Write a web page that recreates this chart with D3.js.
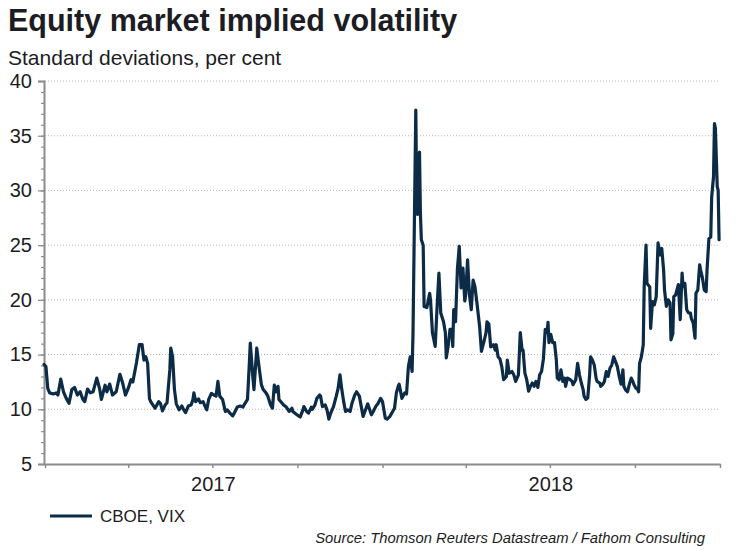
<!DOCTYPE html>
<html>
<head>
<meta charset="utf-8">
<script src="https://cdn.jsdelivr.net/npm/d3@7"></script>
<style>
  html, body { margin: 0; padding: 0; background: #ffffff; }
  svg { display: block; font-family: "Liberation Sans", Arial, sans-serif; }
</style>
</head>
<body>
<svg id="chart" width="745" height="550"></svg>
<script>
// ---------------- DATA ----------------
const seriesName = "CBOE, VIX";
const vixDates = [
"2016-12-31","2017-01-02","2017-01-04","2017-01-06","2017-01-10","2017-01-13","2017-01-15","2017-01-18","2017-01-21","2017-01-24",
"2017-01-27","2017-01-30","2017-02-02","2017-02-05","2017-02-08","2017-02-11","2017-02-13","2017-02-16","2017-02-19","2017-02-22",
"2017-02-26","2017-03-01","2017-03-03","2017-03-07","2017-03-09","2017-03-12","2017-03-15","2017-03-19","2017-03-23","2017-03-26",
"2017-03-29","2017-04-01","2017-04-04","2017-04-06","2017-04-10","2017-04-13","2017-04-16","2017-04-18","2017-04-20","2017-04-22",
"2017-04-24","2017-04-26","2017-04-30","2017-05-04","2017-05-06","2017-05-08","2017-05-11","2017-05-13","2017-05-16","2017-05-17",
"2017-05-19","2017-05-21","2017-05-23","2017-05-26","2017-05-29","2017-05-31","2017-06-02","2017-06-05","2017-06-08","2017-06-10",
"2017-06-11","2017-06-13","2017-06-16","2017-06-18","2017-06-21","2017-06-23","2017-06-25","2017-06-27","2017-06-30","2017-07-02",
"2017-07-05","2017-07-07","2017-07-09","2017-07-12","2017-07-15","2017-07-17","2017-07-20","2017-07-23","2017-07-25","2017-07-28",
"2017-07-31","2017-08-03","2017-08-05","2017-08-08","2017-08-10","2017-08-11","2017-08-14","2017-08-15","2017-08-18","2017-08-20",
"2017-08-23","2017-08-25","2017-08-28","2017-08-30","2017-09-02","2017-09-04","2017-09-06","2017-09-08","2017-09-10","2017-09-11",
"2017-09-14","2017-09-16","2017-09-19","2017-09-22","2017-09-25","2017-09-26","2017-09-29","2017-10-02","2017-10-04","2017-10-07",
"2017-10-08","2017-10-11","2017-10-13","2017-10-16","2017-10-17","2017-10-20","2017-10-22","2017-10-25","2017-10-26","2017-10-28",
"2017-10-31","2017-11-02","2017-11-04","2017-11-06","2017-11-09","2017-11-12","2017-11-14","2017-11-16","2017-11-18","2017-11-20",
"2017-11-22","2017-11-24","2017-11-27","2017-11-29","2017-12-02","2017-12-04","2017-12-07","2017-12-09","2017-12-11","2017-12-13",
"2017-12-16","2017-12-18","2017-12-20","2017-12-22","2017-12-25","2017-12-27","2017-12-30","2018-01-01","2018-01-04","2018-01-06",
"2018-01-09","2018-01-12","2018-01-14","2018-01-16","2018-01-18","2018-01-19","2018-01-22","2018-01-25","2018-01-27","2018-01-29",
"2018-01-31","2018-02-02","2018-02-03","2018-02-06","2018-02-07","2018-02-08","2018-02-10","2018-02-11","2018-02-12","2018-02-14",
"2018-02-15","2018-02-18","2018-02-21","2018-02-22","2018-02-24","2018-02-27","2018-03-01","2018-03-03","2018-03-05","2018-03-08",
"2018-03-10","2018-03-11","2018-03-13","2018-03-15","2018-03-17","2018-03-18","2018-03-19","2018-03-21","2018-03-23","2018-03-25",
"2018-03-27","2018-03-29","2018-03-31","2018-04-01","2018-04-03","2018-04-05","2018-04-07","2018-04-09","2018-04-11","2018-04-13",
"2018-04-16","2018-04-18","2018-04-21","2018-04-23","2018-04-24","2018-04-26","2018-04-28","2018-05-01","2018-05-03","2018-05-04",
"2018-05-06","2018-05-08","2018-05-10","2018-05-12","2018-05-15","2018-05-16","2018-05-18","2018-05-21","2018-05-23","2018-05-25",
"2018-05-28","2018-05-30","2018-06-01","2018-06-02","2018-06-04","2018-06-06","2018-06-08","2018-06-10","2018-06-12","2018-06-14",
"2018-06-16","2018-06-18","2018-06-20","2018-06-22","2018-06-24","2018-06-26","2018-06-28","2018-06-29","2018-06-30","2018-07-02",
"2018-07-04","2018-07-06","2018-07-08","2018-07-09","2018-07-11","2018-07-13","2018-07-15","2018-07-17","2018-07-18","2018-07-20",
"2018-07-23","2018-07-25","2018-07-26","2018-07-29","2018-07-31","2018-08-02","2018-08-04","2018-08-06","2018-08-07","2018-08-09",
"2018-08-11","2018-08-13","2018-08-14","2018-08-16","2018-08-18","2018-08-20","2018-08-21","2018-08-24","2018-08-25","2018-08-27",
"2018-08-29","2018-08-31","2018-09-02","2018-09-04","2018-09-06","2018-09-08","2018-09-10","2018-09-12","2018-09-14","2018-09-16",
"2018-09-18","2018-09-19","2018-09-21","2018-09-23","2018-09-25","2018-09-27","2018-09-29","2018-09-30","2018-10-02","2018-10-04",
"2018-10-05","2018-10-06","2018-10-08","2018-10-10","2018-10-11","2018-10-13","2018-10-14","2018-10-17","2018-10-18","2018-10-20",
"2018-10-22","2018-10-24","2018-10-26","2018-10-28","2018-10-30","2018-11-01","2018-11-02","2018-11-04","2018-11-06","2018-11-08",
"2018-11-09","2018-11-11","2018-11-12","2018-11-14","2018-11-17","2018-11-19","2018-11-21","2018-11-22","2018-11-24","2018-11-26",
"2018-11-28","2018-11-30","2018-12-01","2018-12-03","2018-12-05","2018-12-06","2018-12-08","2018-12-10","2018-12-11","2018-12-13",
"2018-12-15","2018-12-17","2018-12-18","2018-12-20","2018-12-22","2018-12-23","2018-12-25","2018-12-26","2018-12-27","2018-12-29",
"2018-12-30","2018-12-31"
];
const vixValues = [
14.1,13.9,11.9,11.5,11.4,11.5,11.3,12.75,11.6,11.0,
10.55,11.8,12.0,11.3,11.6,10.9,10.7,11.85,11.5,11.6,
12.85,11.9,10.9,12.2,11.6,12.3,11.3,11.6,13.2,12.4,
11.3,11.9,12.7,12.5,14.3,15.9,15.9,14.5,14.8,14.2,
10.95,10.6,10.1,10.7,10.5,9.85,10.4,10.6,13.6,15.6,
14.8,11.8,10.5,9.95,10.3,9.95,9.7,10.3,10.4,10.9,
11.5,10.7,10.95,10.6,10.7,10.3,9.95,10.9,11.45,11.35,
11.2,12.55,11.2,10.9,9.8,9.95,9.65,9.4,9.7,10.2,
10.3,10.2,10.5,10.9,14.2,16.05,12.7,11.8,15.6,14.2,
12.25,11.8,11.5,11.2,10.4,10.1,12.2,11.6,12.1,10.9,
10.6,10.4,10.2,9.8,10.1,9.8,9.6,9.4,9.3,9.95,
10.25,9.8,9.65,10.2,10.0,10.4,11.0,11.3,11.2,10.25,
10.4,9.95,9.1,9.65,10.25,11.2,11.9,13.15,11.8,10.7,
9.8,9.95,9.8,10.55,11.3,11.6,11.2,10.25,9.35,9.8,
10.5,10.0,9.5,9.8,10.3,10.5,11.0,10.7,9.2,9.1,
9.35,9.8,10.1,11.5,12.1,12.3,11.0,11.5,11.4,13.9,
14.8,13.45,17.0,37.35,29.1,27.8,33.5,27.9,25.5,25.0,
19.4,19.3,20.6,19.9,17.0,15.75,19.3,22.45,18.8,18.0,
17.0,14.7,15.75,17.3,17.3,15.75,19.1,18.0,22.8,24.9,
21.1,22.9,19.9,20.5,23.65,20.5,19.1,21.8,21.2,19.8,
17.6,15.3,16.3,17.0,18.0,17.8,15.7,15.9,15.4,15.9,
14.8,14.6,13.9,12.7,13.0,14.5,13.3,13.45,13.15,12.55,
13.15,17.0,15.4,15.4,13.3,12.7,11.65,12.1,12.4,12.1,
12.55,12.0,13.15,13.45,14.6,17.3,17.0,17.95,16.1,16.85,
16.1,16.1,14.5,12.85,12.7,13.6,12.55,12.85,12.1,12.85,
12.7,12.55,12.25,12.7,14.2,13.15,12.4,11.8,11.2,10.9,
11.05,13.15,14.8,14.5,14.05,12.85,12.55,12.4,12.1,12.25,
12.55,13.45,13.0,13.75,14.05,14.8,14.35,13.9,13.0,12.3,
13.6,12.1,11.75,11.6,12.3,12.85,12.5,12.25,11.95,11.8,
11.6,14.2,14.8,15.9,21.2,25.0,21.5,21.2,17.4,19.85,
19.55,20.3,25.2,24.1,24.7,22.75,20.9,19.4,20.0,19.7,
16.35,16.9,20.3,20.45,21.4,18.2,22.45,21.2,21.5,19.1,
18.8,18.8,18.3,17.9,16.5,20.6,20.9,23.2,22.75,22.0,
20.9,20.75,22.75,25.6,25.75,29.4,31.25,36.1,35.7,30.35,
30.0,25.5
];
const yTickValues = [5, 10, 15, 20, 25, 30, 35, 40];
const yearLabels = ["2017", "2018"];
const yearLabelDates = ["2017-07-02", "2018-07-02"];
const titleText = "Equity market implied volatility";
const subtitleText = "Standard deviations, per cent";
const sourceText = "Source: Thomson Reuters Datastream / Fathom Consulting";

// ---------------- CHART ----------------
const parse = d3.timeParse("%Y-%m-%d");
const data = vixDates.map((d, i) => ({ date: parse(d), value: vixValues[i] }));

const svg = d3.select("#chart");
const mLeft = 45, mRight = 720, mTop = 81, mBottom = 464;

const x = d3.scaleTime()
  .domain([new Date(2017, 0, 1), new Date(2019, 0, 1)])
  .range([mLeft, mRight]);
const y = d3.scaleLinear().domain([5, 40]).range([mBottom, mTop]);

const textColor = "#1c1c24";
const axisColor = "#8c8c8c";
const lineColor = "#0c2b47";

// Title & subtitle
svg.append("text").attr("x", 8).attr("y", 31)
  .attr("font-size", 30.5).attr("font-weight", "bold").attr("fill", textColor)
  .text(titleText);
svg.append("text").attr("x", 8).attr("y", 65)
  .attr("font-size", 21).attr("fill", textColor)
  .text(subtitleText);

// Gridlines
svg.append("g").selectAll("line")
  .data(yTickValues.filter(v => v > 5))
  .join("line")
  .attr("x1", mLeft).attr("x2", mRight)
  .attr("y1", d => y(d)).attr("y2", d => y(d))
  .attr("stroke", "#b8b8b8").attr("stroke-width", 1)
  .attr("stroke-dasharray", "1,2");

// Y axis minor ticks
const yMinor = d3.axisLeft(y).tickValues(d3.range(5, 41, 1)).tickSize(3).tickFormat("");
const gyMinor = svg.append("g").attr("transform", `translate(${mLeft - 1},0)`).call(yMinor);
gyMinor.select(".domain").remove();
gyMinor.selectAll("line").attr("stroke", axisColor).attr("stroke-width", 1.2);

// Y axis major
const yAxis = d3.axisLeft(y).tickValues(yTickValues).tickSize(6).tickPadding(6);
const gy = svg.append("g").attr("transform", `translate(${mLeft - 1},0)`).call(yAxis);
gy.select(".domain").attr("stroke", axisColor).attr("stroke-width", 2);
gy.selectAll(".tick line").attr("stroke", axisColor).attr("stroke-width", 1.2);
gy.selectAll("text").attr("font-size", 20).attr("fill", textColor)
  .attr("font-family", "Liberation Sans, Arial, sans-serif");

// X axis
const xAxis = d3.axisBottom(x).ticks(d3.timeMonth.every(3)).tickSize(4).tickFormat("").tickSizeOuter(0);
const gx = svg.append("g").attr("transform", `translate(0,${mBottom})`).call(xAxis);
gx.select(".domain").attr("stroke", axisColor).attr("stroke-width", 2);
gx.selectAll(".tick line").attr("stroke", axisColor).attr("stroke-width", 1.5);

// Year labels
svg.append("g").selectAll("text")
  .data(yearLabels)
  .join("text")
  .attr("x", (d, i) => x(parse(yearLabelDates[i])))
  .attr("y", 491)
  .attr("text-anchor", "middle")
  .attr("font-size", 20).attr("fill", textColor)
  .text(d => d);

// Line
const line = d3.line().x(d => x(d.date)).y(d => y(d.value));
svg.append("path").datum(data)
  .attr("fill", "none").attr("stroke", lineColor)
  .attr("stroke-width", 3.2).attr("stroke-linejoin", "round").attr("stroke-linecap", "round")
  .attr("d", line);

// Legend
svg.append("line").attr("x1", 50).attr("x2", 92).attr("y1", 516).attr("y2", 516)
  .attr("stroke", lineColor).attr("stroke-width", 3.2);
svg.append("text").attr("x", 100).attr("y", 522)
  .attr("font-size", 17).attr("fill", textColor).text(seriesName);

// Source
svg.append("text").attr("x", 705).attr("y", 543)
  .attr("text-anchor", "end").attr("font-size", 14.8).attr("font-style", "italic")
  .attr("fill", textColor).text(sourceText);
</script>
</body>
</html>
